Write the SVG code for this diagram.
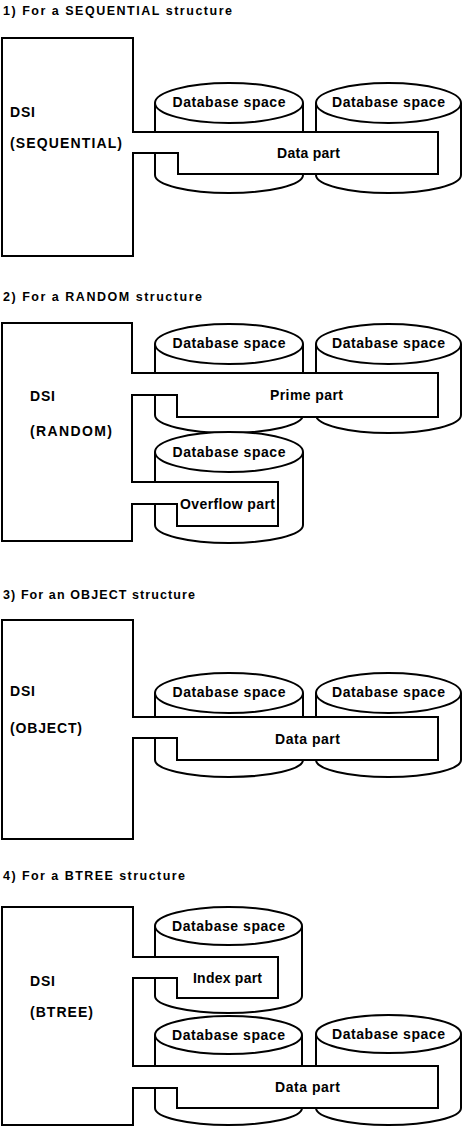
<svg xmlns="http://www.w3.org/2000/svg" width="463" height="1127" viewBox="0 0 463 1127">
<style>
.bg{fill:#fff}
.ln{fill:#fff;stroke:#000;stroke-width:2;stroke-linejoin:miter}
.t{font-family:"Liberation Sans",Arial,sans-serif;font-weight:bold;font-size:14px;fill:#000}
.h{font-family:"Liberation Sans",Arial,sans-serif;font-weight:bold;font-size:12.5px;fill:#000}
.c{text-anchor:middle}
</style>
<rect class="bg" x="0" y="0" width="463" height="1127"/>

<!-- Section 1 -->
<g id="sec1">
<text class="h" x="3" y="15" textLength="229" lengthAdjust="spacing">1)  For a SEQUENTIAL structure</text>
<g id="s1-cyl1">
<path class="ln" d="M155,103 V175 A74,18 0 0 0 303,175 V103"/>
<ellipse class="ln" cx="229" cy="103" rx="74" ry="20"/>
<text class="t c" x="229" y="107" textLength="113" lengthAdjust="spacing">Database space</text>
</g>
<g id="s1-cyl2">
<path class="ln" d="M316,103 V175 A72.5,18 0 0 0 461,175 V103"/>
<ellipse class="ln" cx="388.5" cy="103" rx="72.5" ry="20"/>
<text class="t c" x="388.5" y="107" textLength="113" lengthAdjust="spacing">Database space</text>
</g>
<g id="s1-dsi">
<path class="ln" d="M2,38 H133 V132 H438 V174 H178 V153 H133 V256 H2 Z"/>
<text class="t" x="10" y="117" textLength="25" lengthAdjust="spacing">DSI</text>
<text class="t" x="10" y="148" textLength="112" lengthAdjust="spacing">(SEQUENTIAL)</text>
<text class="t" x="277" y="158" textLength="63" lengthAdjust="spacing">Data part</text>
</g>
</g>

<!-- Section 2 -->
<g id="sec2">
<text class="h" x="3" y="301" textLength="199" lengthAdjust="spacing">2) For a RANDOM structure</text>
<g id="s2-cyl1">
<path class="ln" d="M155,344 V415 A74,18 0 0 0 303,415 V344"/>
<ellipse class="ln" cx="229" cy="344" rx="74" ry="20"/>
<text class="t c" x="229" y="348" textLength="113" lengthAdjust="spacing">Database space</text>
</g>
<g id="s2-cyl2">
<path class="ln" d="M316,344 V415 A72.5,18 0 0 0 461,415 V344"/>
<ellipse class="ln" cx="388.5" cy="344" rx="72.5" ry="20"/>
<text class="t c" x="388.5" y="348" textLength="113" lengthAdjust="spacing">Database space</text>
</g>
<g id="s2-cyl3">
<path class="ln" d="M155,452 V525 A74,18 0 0 0 303,525 V452"/>
<ellipse class="ln" cx="229" cy="452" rx="74" ry="20"/>
<text class="t c" x="229" y="457" textLength="113" lengthAdjust="spacing">Database space</text>
</g>
<g id="s2-dsi">
<path class="ln" d="M2,323 H132 V373 H438 V417 H177 V395 H132 V482 H278 V526 H177 V504 H132 V541 H2 Z"/>
<text class="t" x="30" y="401" textLength="25" lengthAdjust="spacing">DSI</text>
<text class="t" x="30" y="436" textLength="82" lengthAdjust="spacing">(RANDOM)</text>
<text class="t" x="270" y="400" textLength="73" lengthAdjust="spacing">Prime part</text>
<text class="t" x="180" y="509" textLength="95" lengthAdjust="spacing">Overflow part</text>
</g>
</g>

<!-- Section 3 -->
<g id="sec3">
<text class="h" x="3" y="599" textLength="192" lengthAdjust="spacing">3)  For an OBJECT structure</text>
<g id="s3-cyl1">
<path class="ln" d="M155,693 V760 A74,17 0 0 0 303,760 V693"/>
<ellipse class="ln" cx="229" cy="693" rx="74" ry="20"/>
<text class="t c" x="229" y="697" textLength="113" lengthAdjust="spacing">Database space</text>
</g>
<g id="s3-cyl2">
<path class="ln" d="M316,693 V760 A72.5,17 0 0 0 461,760 V693"/>
<ellipse class="ln" cx="388.5" cy="693" rx="72.5" ry="20"/>
<text class="t c" x="388.5" y="697" textLength="113" lengthAdjust="spacing">Database space</text>
</g>
<g id="s3-dsi">
<path class="ln" d="M2,620 H133 V717 H438 V760 H177 V738 H133 V839 H2 Z"/>
<text class="t" x="10" y="696" textLength="25" lengthAdjust="spacing">DSI</text>
<text class="t" x="10" y="733" textLength="72" lengthAdjust="spacing">(OBJECT)</text>
<text class="t" x="275" y="744" textLength="65" lengthAdjust="spacing">Data part</text>
</g>
</g>

<!-- Section 4 -->
<g id="sec4">
<text class="h" x="3" y="880" textLength="182" lengthAdjust="spacing">4)  For a BTREE structure</text>
<g id="s4-cyl1">
<path class="ln" d="M155,926 V996 A73.5,17 0 0 0 302,996 V926"/>
<ellipse class="ln" cx="228.5" cy="926" rx="73.5" ry="19"/>
<text class="t c" x="228.5" y="931" textLength="113" lengthAdjust="spacing">Database space</text>
</g>
<g id="s4-cyl2">
<path class="ln" d="M155,1035 V1108 A73.5,17 0 0 0 302,1108 V1035"/>
<ellipse class="ln" cx="228.5" cy="1035" rx="73.5" ry="19"/>
<text class="t c" x="228.5" y="1040" textLength="113" lengthAdjust="spacing">Database space</text>
</g>
<g id="s4-cyl3">
<path class="ln" d="M316,1034 V1108 A72.5,17 0 0 0 461,1108 V1034"/>
<ellipse class="ln" cx="388.5" cy="1034" rx="72.5" ry="19"/>
<text class="t c" x="388.5" y="1039" textLength="113" lengthAdjust="spacing">Database space</text>
</g>
<g id="s4-dsi">
<path class="ln" d="M2,907 H133 V957 H278 V998 H177 V978 H133 V1066 H438 V1108 H177 V1088 H133 V1125 H2 Z"/>
<text class="t" x="30" y="986" textLength="25" lengthAdjust="spacing">DSI</text>
<text class="t" x="30" y="1017" textLength="63" lengthAdjust="spacing">(BTREE)</text>
<text class="t" x="193" y="983" textLength="69" lengthAdjust="spacing">Index part</text>
<text class="t" x="275" y="1092" textLength="65" lengthAdjust="spacing">Data part</text>
</g>
</g>
</svg>
